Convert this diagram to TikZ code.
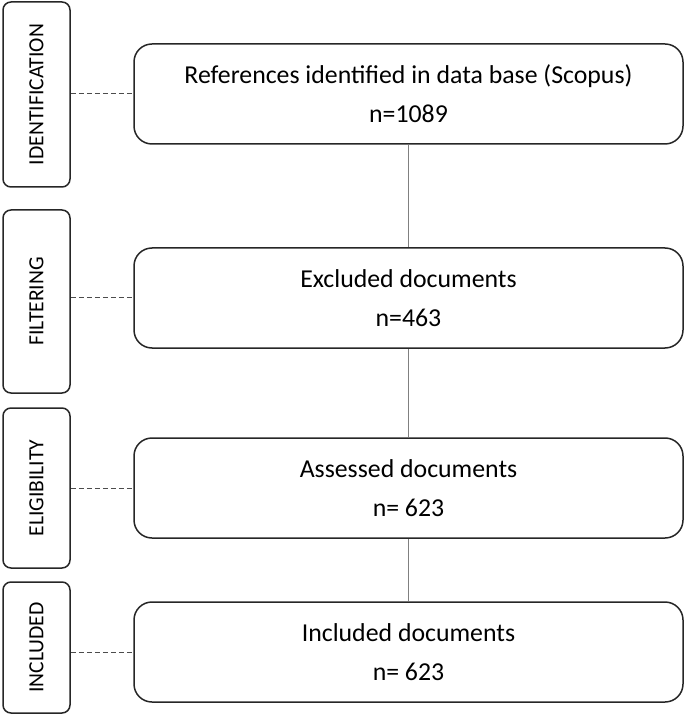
\documentclass[tikz,border=0pt]{standalone}
\usepackage{fontspec}
\setmainfont{Carlito}
\usepackage{tikz}
\usetikzlibrary{positioning, calc}

\begin{document}
\begin{tikzpicture}[
        x=0.5pt, y=-0.5pt,
        stage/.style={rectangle, draw=black!85, line width=0.75pt, rounded corners=4pt, minimum width=33.5pt, inner sep=0pt, font=\fontsize{10.8}{12}\selectfont},
        record/.style={rectangle, draw=black!85, line width=0.75pt, rounded corners=9pt, minimum width=274.5pt, minimum height=50pt, align=center, font=\fontsize{12.9}{15.5}\selectfont},
        link/.style={draw=black!50, line width=0.6pt},
        guide/.style={draw=black!70, line width=0.5pt, dash pattern=on 2.5pt off 1.5pt}
    ]
        \useasboundingbox (0,0) rectangle (685,716);

        % Etapas a la izquierda
        \node [stage, minimum height=92.5pt] (s1) at (36.5, 94.5) {\rotatebox{90}{IDENTIFICATION}};
        \node [stage, minimum height=91.5pt] (s2) at (36.5, 301.5) {\rotatebox{90}{FILTERING}};
        \node [stage, minimum height=80pt] (s3) at (36.5, 488) {\rotatebox{90}{ELIGIBILITY}};
        \node [stage, minimum height=65.5pt] (s4) at (36.5, 647.5) {\rotatebox{90}{INCLUDED}};

        % Cajas de documentos
        \node [record] (r1) at (408.5, 94) {References identified in data base (Scopus)\\[4pt]n=1089};
        \node [record] (r2) at (408.5, 298) {Excluded documents\\[4pt]n=463};
        \node [record] (r3) at (408.5, 488) {Assessed documents\\[4pt]n= 623};
        \node [record] (r4) at (408.5, 652) {Included documents\\[4pt]n= 623};

        % Lineas verticales
        \draw [link] (r1) -- (r2);
        \draw [link] (r2) -- (r3);
        \draw [link] (r3) -- (r4);

        % Guias punteadas
        \draw [guide] (s1.east |- r1.west) -- (r1.west);
        \draw [guide] (s2.east |- r2.west) -- (r2.west);
        \draw [guide] (s3.east |- r3.west) -- (r3.west);
        \draw [guide] (s4.east |- r4.west) -- (r4.west);
    \end{tikzpicture}
\end{document}
